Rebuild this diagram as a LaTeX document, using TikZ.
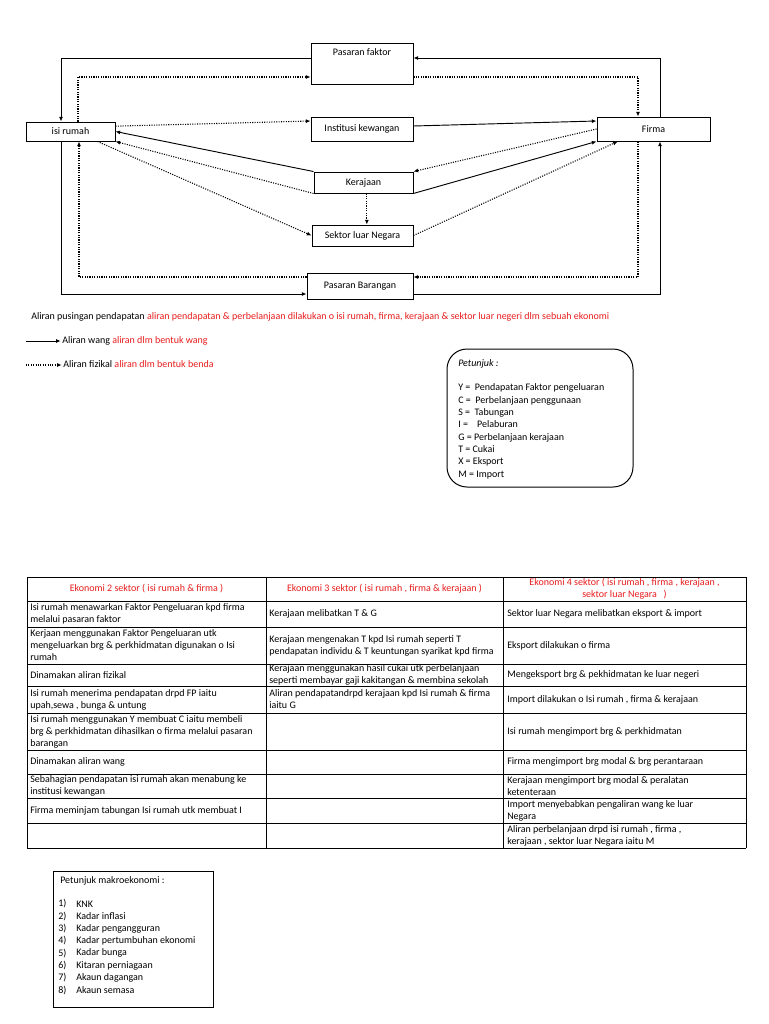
\documentclass[tikz,border=0pt]{standalone}
\usepackage{fontspec}
\setmainfont{Carlito}
\usetikzlibrary{arrows.meta,calc}
\definecolor{rd}{RGB}{232,28,28}
\begin{document}
\begin{tikzpicture}[x=0.75pt,y=-0.75pt,
  every node/.style={font=\fontsize{7.5}{9}\selectfont, inner sep=0pt},
  box/.style={draw, line width=0.7pt},
  money/.style={line width=0.7pt, -{Latex[length=3.5pt,width=3pt]}},
  goods/.style={line width=0.8pt, densely dotted, -{Latex[length=3.5pt,width=3pt]}},
  grid/.style={line width=0.75pt},
  cell/.style={anchor=west, align=left},
  hdr/.style={align=center, text=rd}]
\useasboundingbox[fill=white] (0,0) rectangle (768,1024);

% ---------- diagram boxes ----------
\node[box, minimum width=76.5pt, minimum height=30.75pt,
  label={[anchor=north, yshift=-4.5pt, name=pft]north:Pasaran faktor}] (pf) at (362,63.5) {};
\node[box, minimum width=76.5pt, minimum height=18pt] (ik) at (362,129) {Institusi kewangan};
\node[box, minimum width=66.75pt, minimum height=14.25pt] (ir) at (70.5,131.5) {isi rumah};
\node[box, minimum width=84.75pt, minimum height=18pt] (firma) at (653.5,129) {Firma};
\node[box, minimum width=74.25pt, minimum height=15.75pt] (ker) at (363.5,182.5) {Kerajaan};
\node[box, minimum width=75.75pt, minimum height=15.75pt] (sln) at (362.5,235.5) {Sektor luar Negara};
\node[box, minimum width=79.5pt, minimum height=19.5pt] (pb) at (360,286) {Pasaran Barangan};

% ---------- outer loops ----------
\coordinate (cA) at (660,58);
\draw[money] (firma.north -| cA) |- (pf.east |- cA);
\coordinate (cB) at (61,58);
\draw[money] (pf.west |- cB) -| (ir.north -| cB);
\coordinate (cC) at (78,77);
\draw[goods] (ir.north -| cC) |- (pf.west |- cC);
\coordinate (cD) at (638,77);
\draw[goods] (pf.east |- cD) -| (firma.north -| cD);
\coordinate (cE) at (638,277);
\draw[goods] (firma.south -| cE) |- (pb.east |- cE);
\coordinate (cF) at (660,294);
\draw[money] (pb.east |- cF) -| (firma.south -| cF);
\coordinate (cG) at (79,277);
\draw[goods] (pb.west |- cG) -| (ir.south -| cG);
\coordinate (cH) at (61,294);
\draw[money] (ir.south -| cH) |- (pb.west |- cH);

% ---------- inner flows ----------
\draw[goods] ([yshift=4pt]ir.east) -- ([yshift=6pt]ik.west);
\draw[money] ([yshift=2.25pt]ik.east) -- ([yshift=6pt]firma.west);
\draw[money] (ker.north west) -- (ir.east);
\draw[goods] (ker.south west) -- (ir.south east);
\draw[goods] ($(ir.south east)!0.2!(ir.south west)$) -- (sln.west);
\draw[goods] (firma.west) -- (ker.north east);
\draw[money] (ker.south east) -- (firma.south west);
\draw[goods] (sln.east) -- ($(firma.south west)!0.186!(firma.south east)$);
\draw[goods] ([xshift=2.5pt]ker.south) -- ([xshift=2.5pt]ker.south |- sln.north);

% ---------- legend ----------
\node[anchor=west] (l1) at (31,317) {Aliran pusingan pendapatan \textcolor{rd}{aliran pendapatan \& perbelanjaan dilakukan o isi rumah, firma, kerajaan \& sektor luar negeri dlm sebuah ekonomi}};
\coordinate (la1) at (26,341);
\node[anchor=west] (lw) at (62,341) {Aliran wang \textcolor{rd}{aliran dlm bentuk wang}};
\draw[money] (la1) -- ([xshift=-1pt]lw.west);
\coordinate (la2) at (26,365);
\node[anchor=west] (lf) at (63,364) {Aliran fizikal \textcolor{rd}{aliran dlm bentuk benda}};
\draw[goods] (la2) -- ([xshift=-1pt]lf.west |- la2);

% ---------- petunjuk box ----------
\draw[line width=0.75pt, rounded corners=15pt] (447,349) rectangle (633,487);
\node[anchor=north west, align=left, font=\fontsize{7.5}{9.25}\selectfont] (pt) at (458,359)
 {\textit{Petunjuk :}\\[9.25pt]
  Y =~~Pendapatan Faktor pengeluaran\\
  C =~~Perbelanjaan penggunaan\\
  S =~~Tabungan\\
  I =~~~~Pelaburan\\
  G = Perbelanjaan kerajaan\\
  T = Cukai\\
  X = Eksport\\
  M = Import};

% ---------- table ----------
\foreach \yy in {577,601,627,664,686,713,750,774,798,823,848}
  \draw[grid] (27,\yy) -- (746,\yy);
\foreach \xx in {27,266,503,746}
  \draw[grid] (\xx,577) -- (\xx,848);

\node[hdr] (h1) at (146.5,589) {Ekonomi 2 sektor ( isi rumah \& firma )};
\node[hdr] (h2) at (384.5,589) {Ekonomi 3 sektor ( isi rumah , firma \& kerajaan )};
\node[hdr] (h3) at (624.5,588.5) {Ekonomi 4 sektor ( isi rumah , firma , kerajaan ,\\ sektor luar Negara~~~)};

\node[cell] (a2) at (30,614) {Isi rumah menawarkan Faktor Pengeluaran kpd firma\\melalui pasaran faktor};
\node[cell] (a3) at (30,645.5) {Kerjaan menggunakan Faktor Pengeluaran utk\\mengeluarkan brg \& perkhidmatan digunakan o Isi\\rumah};
\node[cell] (a4) at (30,675) {Dinamakan aliran fizikal};
\node[cell] (a5) at (30,699.5) {Isi rumah menerima pendapatan drpd FP iaitu\\upah,sewa , bunga \& untung};
\node[cell] (a6) at (30,731.5) {Isi rumah menggunakan Y membuat C iaitu membeli\\brg \& perkhidmatan dihasilkan o firma melalui pasaran\\barangan};
\node[cell] (a7) at (30,762) {Dinamakan aliran wang};
\node[cell] (a8) at (30,786) {Sebahagian pendapatan isi rumah akan menabung ke\\institusi kewangan};
\node[cell] (a9) at (30,810.5) {Firma meminjam tabungan Isi rumah utk membuat I};

\node[cell] (b2) at (269,614) {Kerajaan melibatkan T \& G};
\node[cell] (b3) at (269,645.5) {Kerajaan mengenakan T kpd Isi rumah seperti T\\pendapatan individu \& T keuntungan syarikat kpd firma};
\node[cell] (b4) at (269,675) {Kerajaan menggunakan hasil cukai utk perbelanjaan\\seperti membayar gaji kakitangan \& membina sekolah};
\node[cell] (b5) at (269,699) {Aliran pendapatandrpd kerajaan kpd Isi rumah \& firma\\iaitu G};

\node[cell] (c2) at (507,614) {Sektor luar Negara melibatkan eksport \& import};
\node[cell] (c3) at (507,645.5) {Eksport dilakukan o firma};
\node[cell] (c4) at (507,675) {Mengeksport brg \& pekhidmatan ke luar negeri};
\node[cell] (c5) at (507,699.5) {Import dilakukan o Isi rumah , firma \& kerajaan};
\node[cell] (c6) at (507,731.5) {Isi rumah mengimport brg \& perkhidmatan};
\node[cell] (c7) at (507,762) {Firma mengimport brg modal \& brg perantaraan};
\node[cell] (c8) at (507,786) {Kerajaan mengimport brg modal \& peralatan\\ketenteraan};
\node[cell] (c9) at (507,810.5) {Import menyebabkan pengaliran wang ke luar\\Negara};
\node[cell] (c10) at (507,835.5) {Aliran perbelanjaan drpd isi rumah , firma ,\\kerajaan , sektor luar Negara iaitu M};

% ---------- makroekonomi box ----------
\draw[line width=0.75pt] (53,871) rectangle (213,1007);
\node[anchor=west] (mk) at (60,881) {Petunjuk makroekonomi :};
\foreach \t [count=\i] in {KNK, Kadar inflasi, Kadar pengangguran, Kadar pertumbuhan ekonomi, Kadar bunga, Kitaran perniagaan, Akaun dagangan, Akaun semasa} {
  \node[anchor=west] (mn\i) at (58,{891.7+12.3*\i}) {\i)};
  \node[anchor=west] (mt\i) at (76,{891.7+12.3*\i}) {\t};
}
\end{tikzpicture}
\end{document}
